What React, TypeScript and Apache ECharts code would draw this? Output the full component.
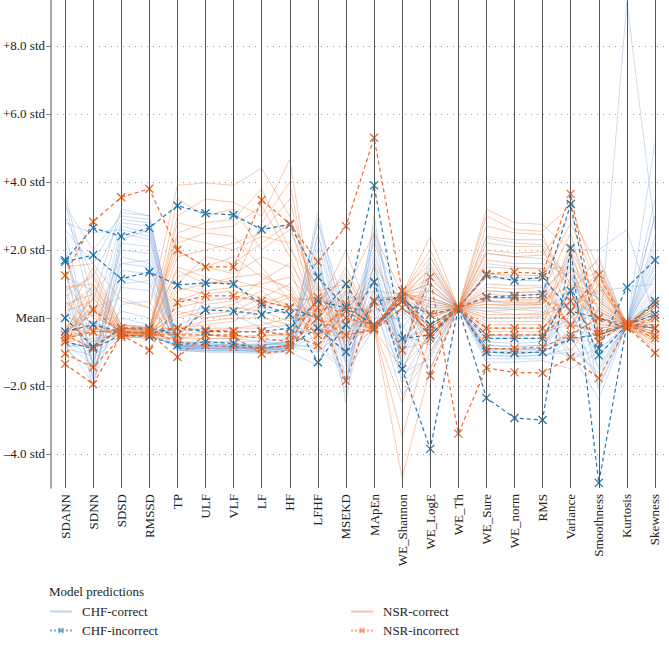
import React, { useEffect, useRef } from "react";
import * as echarts from "echarts";

const features = ["SDANN", "SDNN", "SDSD", "RMSSD", "TP", "ULF", "VLF", "LF", "HF", "LFHF", "MSEKD", "MApEn", "WE_Shannon", "WE_LogE", "WE_Th", "WE_Sure", "WE_norm", "RMS", "Variance", "Smoothness", "Kurtosis", "Skewness"];
const yTicks = [-4, -2, 0, 2, 4, 6, 8];

const chfCorrect: number[][] = [
  [3.6, 0.5, 3.2, 3.0, -0.85, -0.8, -0.85, -0.9, -0.85, 3.1, -0.5, 2.0, -0.8, 0.5, 0.3, -0.9, -0.95, -0.9, 0.5, -0.6, -0.2, 3.0],
  [3.0, 1.2, 2.9, 2.8, -0.9, -0.9, -0.9, -0.95, -0.9, 2.5, -1.0, 1.5, -1.2, 1.0, 0.3, -1.0, -1.05, -1.0, -0.5, -0.8, 9.3, 2.6],
  [2.5, -1.0, 2.7, 2.5, -0.8, -0.75, -0.8, -0.8, -0.75, 2.0, -2.5, 3.0, -1.5, 0.2, 0.3, 2.35, 2.2, 2.15, 1.0, -1.2, -0.3, 1.5],
  [2.0, -1.5, 2.5, 2.3, -0.85, -0.85, -0.85, -0.9, -0.8, 1.5, -1.8, 2.5, -0.5, -0.8, 0.3, 1.6, 1.5, 1.45, 1.5, 0.5, -0.2, 5.15],
  [1.5, -2.05, 2.2, 2.1, -0.9, -0.95, -0.95, -1.0, -0.95, 1.0, -1.2, 0.5, -2.3, -1.0, 0.3, -1.1, -1.1, -1.1, -1.0, -2.4, -0.2, 2.2],
  [1.0, -1.8, 1.8, 1.6, -0.75, -0.7, -0.7, -0.7, -0.6, 0.5, 0.5, 1.0, -1.0, 1.5, 0.3, -0.5, -0.55, -0.5, 0.0, 1.5, -0.2, 1.8],
  [0.5, -1.3, 1.4, 1.3, -0.95, -1.0, -1.0, -1.05, -1.0, -1.4, 0.8, -0.3, 0.2, -0.5, 0.3, -1.3, -1.3, -1.25, -1.5, -1.0, -0.15, 0.5],
  [-0.9, -1.6, 0.9, 0.8, -0.8, 1.05, 1.0, 0.3, 0.1, 0.0, -0.8, 1.8, -0.3, 0.8, 0.3, 0.5, 0.4, 0.45, 2.0, 2.0, 2.6, 0.0],
  [-0.8, -1.9, 0.4, 0.5, -0.85, -0.9, -0.9, -0.85, -0.85, -0.8, -1.5, 0.2, -1.6, -1.2, 0.3, -0.9, -0.9, -0.9, 0.8, -1.5, -0.2, -0.5],
  [-0.7, -0.9, -0.3, -0.4, -0.9, -0.85, -0.9, -0.95, -0.9, 1.2, -0.2, 2.2, 0.5, 1.2, 0.3, 0.0, 0.0, 0.05, -0.8, 0.8, 0.9, 1.0],
  [-0.6, -1.2, -0.5, -0.5, -0.8, -0.8, -0.8, -0.85, -0.8, 0.3, -2.2, 0.8, -0.8, 0.0, 0.3, -0.95, -1.0, -0.95, 1.2, -0.3, -0.2, 3.0],
  [3.3, 2.0, 3.0, 2.9, -0.7, 0.0, 0.1, -0.3, -0.6, 2.8, 0.2, 1.2, -1.3, 0.6, 0.3, 1.2, 1.1, 1.1, -0.3, 1.0, -0.2, 1.2],
  [2.8, 2.5, 2.6, 2.4, -0.85, -0.75, -0.8, -0.9, -0.85, 2.2, -1.0, 0.6, -0.2, -1.5, 0.3, -0.7, -0.75, -0.7, -1.2, -0.9, -0.25, 0.3],
  [-0.85, -0.7, 0.0, -0.2, -0.9, -0.95, -0.95, -0.95, -0.9, -0.5, 0.0, -0.3, 0.7, 0.3, 0.3, -1.0, -1.05, -1.0, 0.3, -2.0, -0.2, -0.3],
  [1.8, -0.5, 2.0, 1.9, -0.8, -0.85, -0.85, -0.8, -0.7, 1.8, -1.3, 2.7, -0.6, -0.3, 0.3, 0.8, 0.75, 0.8, 1.6, 0.3, -0.2, 2.0],
  [0.2, -1.0, 1.2, 1.0, -0.9, -0.9, -0.9, -0.9, -0.85, -1.0, 0.4, 0.0, 0.0, 0.9, 0.3, -1.2, -1.2, -1.2, -0.6, -1.8, -0.2, -0.4],
  [-0.5, 0.3, 0.6, 0.3, -0.75, -0.6, -0.6, -0.7, -0.8, 0.8, -0.6, 1.3, -0.9, -0.7, 0.3, 0.2, 0.1, 0.15, 0.6, 0.0, -0.3, 0.8],
  [2.2, -1.4, 2.3, 2.6, -0.95, -1.0, -1.0, -1.0, -0.95, 1.3, -0.4, 0.4, -1.1, 1.8, 0.3, -0.9, -0.95, -0.9, -0.4, -1.4, -0.2, 1.6],
  [-0.9, -1.1, -0.4, -0.5, -0.85, -0.8, -0.8, -0.75, -0.7, -0.2, -1.1, -0.3, 0.3, -0.2, 0.3, -0.6, -0.6, -0.6, 0.9, 0.6, -0.2, 0.2],
  [1.2, 0.8, 1.6, 1.5, -0.8, -0.9, -0.9, -0.9, -0.9, 0.2, -1.9, 1.6, -1.8, -0.4, 0.3, 0.6, 0.55, 0.55, -1.3, -0.5, -0.2, 0.6],
  [2.6, 1.6, 3.1, 3.0, -0.8, -0.85, -0.85, -0.9, -0.8, 2.9, -0.9, 1.1, -0.7, 0.4, 0.3, -0.8, -0.85, -0.8, 0.1, -1.1, -0.2, 2.4],
  [0.8, -1.7, 1.0, 1.1, -0.9, -0.9, -0.95, -0.95, -0.9, 0.7, -2.0, 2.4, -1.4, -0.6, 0.3, 1.9, 1.8, 1.75, 1.3, -0.7, -0.2, 1.3],
  [-0.75, -1.4, -0.2, -0.3, -0.85, -0.85, -0.85, -0.8, -0.75, -0.9, -1.6, -0.3, 0.1, 0.6, 0.3, -1.1, -1.15, -1.1, -0.9, -1.6, -0.2, -0.2],
  [3.4, 0.0, 2.8, 2.7, -0.75, -0.7, -0.75, -0.8, -0.7, 2.4, 0.1, 1.7, -1.0, 1.3, 0.3, 0.3, 0.25, 0.3, 0.7, 1.8, -0.2, 3.5],
  [-0.85, -0.8, 0.2, 0.0, -0.95, -0.95, -0.95, -1.0, -0.95, -0.1, -0.7, 0.6, 0.6, 0.1, 0.3, -0.4, -0.4, -0.4, -0.2, 0.2, -0.25, -0.1],
  [1.3, -1.1, 1.6, 1.7, -0.85, 0.6, 0.55, -0.1, -0.4, 1.6, -1.4, 0.9, -1.9, -1.1, 0.3, -0.8, -0.85, -0.8, 1.9, -2.1, -0.2, 0.9],
];

const nsrCorrect: number[][] = [
  [1.5, 1.6, 0.5, 0.3, 3.9, 3.97, 3.9, 4.4, 3.0, 0.5, 1.2, -0.3, 0.7, 2.4, 0.3, 3.2, 2.8, 2.75, 2.0, 0.5, -0.2, -0.3],
  [0.8, 1.2, -0.3, -0.4, 3.0, 3.5, 3.4, 3.0, 4.65, -0.5, 0.5, -0.3, 0.7, 1.0, 0.3, 3.0, 2.6, 2.55, 3.3, 1.0, -0.2, 0.0],
  [-0.3, 0.6, -0.4, -0.45, 2.5, 2.8, 2.9, 3.8, 2.0, 1.0, -0.5, 0.5, 0.7, -0.8, 0.3, 2.4, 2.3, 2.3, 1.0, 1.7, -0.25, -0.8],
  [-0.6, -0.3, -0.5, -0.5, 1.8, 2.0, 2.2, 2.5, 3.5, 0.0, 1.5, -0.3, 0.6, 1.5, 0.3, 1.5, 1.45, 1.45, -0.5, 0.0, -0.2, 0.5],
  [0.3, 0.9, -0.35, -0.3, 1.2, 1.5, 1.3, 1.8, 1.5, -0.8, 0.0, -0.35, 0.75, 0.5, 0.3, 0.8, 0.75, 0.75, 2.5, -0.5, -0.2, -0.5],
  [-0.4, 0.2, -0.45, -0.5, 0.5, 0.8, 0.9, 1.0, 1.2, 0.3, 2.0, -0.3, -4.7, -1.5, 0.3, 0.5, 0.5, 0.5, 0.3, 1.2, -0.15, -1.0],
  [-0.7, -0.6, -0.5, -0.55, -0.3, -0.2, -0.1, 0.3, 0.6, -0.3, 0.8, -0.25, 0.7, 0.0, 0.3, 0.2, 0.25, 0.2, -1.0, 0.3, -0.2, 0.2],
  [0.0, 1.5, -0.2, -0.3, 2.2, 2.5, 2.4, 1.5, 0.5, 0.6, -0.8, 0.3, 0.7, 2.0, 0.3, 1.9, 1.8, 1.85, 3.0, 1.5, -0.3, -0.6],
  [-0.5, 0.4, -0.4, -0.4, 0.0, 0.2, 0.4, 0.8, 0.2, -0.6, 0.3, -0.4, 0.6, -0.3, 0.3, 0.4, 0.35, 0.4, 1.5, -0.3, -0.2, -0.2],
  [1.0, 0.0, -0.3, -0.35, 3.5, 3.0, 3.2, 2.0, 2.6, 0.8, 1.0, -0.3, -3.5, -0.5, 0.3, 2.7, 2.5, 2.45, 0.5, 0.8, -0.2, 0.3],
  [-0.2, -0.5, -0.55, -0.6, 0.8, 1.0, 1.2, 1.3, 0.8, -1.0, -0.3, 1.5, 0.5, 0.8, 0.3, 0.0, 0.0, 0.0, 2.2, 0.5, -0.2, -0.4],
  [-0.8, 0.8, -0.45, -0.4, -0.5, -0.4, -0.3, -0.2, 0.0, 0.2, 0.5, -0.35, 0.7, 1.2, 0.3, 1.0, 0.95, 0.95, -0.3, 1.3, -0.2, 0.1],
  [0.5, -0.2, -0.5, -0.45, 1.5, 1.2, 1.0, 2.8, 4.0, -0.4, -0.6, -0.3, 0.8, 0.2, 0.3, -0.3, -0.3, -0.3, 0.8, -0.2, -0.25, -0.7],
  [-0.4, 1.0, -0.35, -0.4, 0.3, 0.5, 0.6, 0.5, 0.3, 0.1, 0.8, 2.5, 0.7, -1.0, 0.3, 0.7, 0.65, 0.7, 1.8, 0.2, -0.2, 0.4],
  [-0.6, -0.4, -0.4, -0.5, 2.8, 2.6, 2.7, 3.3, 1.8, -0.2, 0.2, -0.3, 0.65, 1.8, 0.3, 2.2, 2.1, 2.1, 0.0, 0.6, -0.2, -0.3],
  [0.2, 0.5, -0.5, -0.5, -0.3, -0.1, 0.0, 0.0, -0.2, -0.5, -0.2, -0.3, -2.5, -0.2, 0.3, 0.3, 0.3, 0.3, -0.7, -0.4, -0.2, -0.6],
  [-0.3, -0.7, -0.4, -0.45, 0.6, 0.4, 0.5, 1.1, 1.6, 0.4, 1.3, -0.3, 0.7, 0.6, 0.3, 1.2, 1.2, 1.15, 2.8, 0.9, -0.2, 0.0],
  [1.2, 0.3, -0.3, -0.35, 1.0, 1.8, 1.6, 2.2, 2.8, -0.1, 0.6, -0.35, 0.7, 0.4, 0.3, 1.7, 1.6, 1.6, 1.2, -0.1, -0.2, -0.2],
  [-0.5, -0.1, -0.5, -0.5, -0.6, -0.5, -0.55, -0.5, -0.5, 0.6, -1.0, -0.3, 0.8, -0.6, 0.3, -0.5, -0.5, -0.5, 0.6, 0.4, -0.2, 0.3],
  [0.6, 1.3, -0.2, -0.25, 2.0, 1.5, 1.8, 1.2, 0.9, -0.7, 0.4, 0.8, 0.7, 1.0, 0.3, 0.9, 0.85, 0.9, -0.2, 1.0, -0.25, -0.9],
  [-0.6, -0.2, -0.45, -0.5, 0.2, 0.0, 0.1, 0.4, 0.7, -0.2, 0.1, -0.35, 0.7, 0.8, 0.3, 0.1, 0.1, 0.1, 0.4, 0.2, -0.2, -0.1],
  [-0.5, 0.6, -0.5, -0.55, -0.4, -0.3, -0.3, -0.3, -0.2, 0.4, -0.4, -0.3, 0.75, 0.3, 0.3, 0.5, 0.45, 0.45, 1.0, 0.7, -0.2, -0.4],
  [0.1, -0.4, -0.35, -0.4, 0.9, 0.7, 0.8, 0.6, 0.4, 0.2, 0.9, -0.3, 0.65, -0.2, 0.3, -0.2, -0.2, -0.2, 2.0, -0.6, -0.2, 0.2],
  [-0.4, 0.1, -0.4, -0.45, -0.2, 0.1, 0.2, 0.6, 1.0, -0.4, 0.3, 0.2, 0.7, 1.4, 0.3, 0.6, 0.6, 0.6, -0.4, 0.9, -0.2, -0.5],
  [0.4, 0.7, -0.3, -0.3, 1.4, 1.0, 1.1, 0.9, 0.6, 0.5, -0.1, -0.35, -1.5, 0.0, 0.3, 1.3, 1.25, 1.25, 0.2, 1.1, -0.2, 0.1],
  [-0.7, -0.3, -0.55, -0.6, -0.6, -0.6, -0.6, -0.55, -0.45, -0.3, -0.5, -0.3, 0.7, 0.5, 0.3, -0.1, -0.1, -0.1, 0.9, 0.1, -0.2, -0.3],
  [0.9, 1.0, -0.25, -0.3, 2.4, 2.2, 2.0, 2.4, 2.2, 0.0, 0.7, -0.3, 0.8, 1.6, 0.3, 2.0, 1.9, 1.95, 0.9, 1.4, -0.2, -0.7],
  [-0.3, 0.3, -0.45, -0.45, 0.1, 0.3, 0.3, 0.2, -0.1, 0.9, -0.7, -0.3, 0.6, -0.5, 0.3, 0.4, 0.4, 0.4, 1.4, -0.2, -0.2, 0.2],
];

const chfIncorrect: number[][] = [
  [1.7, 2.65, 2.4, 2.65, 3.3, 3.08, 3.03, 2.6, 2.75, 1.2, 0.3, 3.9, -0.6, -0.5, 0.3, 0.62, 0.65, 0.7, 3.35, -0.9, 0.9, 1.7],
  [1.65, 1.85, 1.15, 1.35, 0.97, 1.03, 1.0, 0.4, 0.1, -1.3, -0.2, 1.06, -1.5, -3.85, 0.3, -2.35, -2.94, -3.0, 2.05, -4.85, -0.2, 0.1],
  [0.0, -0.85, -0.3, -0.3, -0.5, 0.24, 0.2, 0.1, 0.3, 0.0, 1.0, -0.3, 0.5, -0.5, 0.3, 1.26, 1.1, 1.2, 0.2, 0.0, -0.3, 0.5],
  [-0.7, -0.9, -0.5, -0.55, -0.8, -0.7, -0.75, -0.9, -0.8, -0.3, -1.0, 0.5, 0.6, -0.2, 0.3, -1.0, -1.03, -1.0, -0.6, -0.5, -0.2, -0.3],
  [-0.4, -0.2, -0.4, -0.45, -0.3, -0.4, -0.4, -0.4, -0.3, 0.5, 0.3, -0.2, 0.5, 0.1, 0.3, -0.6, -0.6, -0.6, 0.8, -1.1, -0.2, 0.4],
];

const nsrIncorrect: number[][] = [
  [1.25, 2.83, 3.55, 3.8, 2.0, 1.5, 1.5, 3.47, 2.77, 1.65, 2.7, 5.3, 0.8, -1.7, 0.3, 1.3, 1.35, 1.3, 3.65, -0.5, -0.2, 0.4],
  [-0.6, -0.4, -0.4, -0.45, -1.15, -0.5, -0.55, -1.05, -0.95, 0.3, -1.85, 0.5, -0.95, 1.2, -3.4, -1.47, -1.6, -1.62, -1.15, -1.77, -0.25, -1.03],
  [-1.35, -1.95, -0.5, -0.95, 0.45, 0.65, 0.65, 0.5, 0.3, -0.5, 0.4, -0.3, 0.5, -0.3, 0.3, -0.5, -0.5, -0.5, 0.2, 1.27, -0.3, 0.0],
  [-1.05, -1.45, -0.55, -0.5, -0.5, -0.5, -0.5, -0.6, -0.7, 0.6, 0.0, -0.2, 0.6, -0.6, 0.3, 0.6, 0.6, 0.6, -0.2, -0.4, -0.2, -0.5],
  [-0.5, -0.9, -0.3, -0.35, -0.3, -0.35, -0.4, -0.4, -0.5, -0.8, 0.2, -0.3, 0.8, 0.1, 0.3, -0.3, -0.3, -0.3, 0.5, -0.7, -0.1, -0.3],
  [-0.7, 0.25, -0.45, -0.4, -0.7, -0.8, -0.85, -0.9, -0.8, 0.0, -0.5, -0.35, 0.3, -0.4, 0.3, -0.9, -0.9, -0.85, -0.5, 0.0, -0.2, -0.6],
];

const FONT = "'Liberation Serif', 'DejaVu Serif', serif";
const BLUE_LIGHT = "#7fa8dc";
const ORANGE_LIGHT = "#f2884a";
const BLUE = "#1f77b4";
const ORANGE = "#ec6a2c";
const X_SYMBOL = "path://M0,0L10,10M10,0L0,10";

function fmtY(v: number): string {
  if (v === 0) return "Mean";
  const s = Math.abs(v).toFixed(1) + " std";
  return v > 0 ? "+" + s : "\u2013" + s;
}

export default function App() {
  const ref = useRef<HTMLDivElement>(null);
  useEffect(() => {
    if (!ref.current) return;
    const chart = echarts.init(ref.current, undefined, { renderer: "svg" });
    const series: any[] = [];
    series.push({
      type: "line",
      name: "axes",
      data: [],
      z: 1,
      silent: true,
      markLine: {
        silent: true,
        symbol: "none",
        label: { show: false },
        lineStyle: { color: "#555", width: 1, type: "solid" },
        data: features.map((f) => ({ xAxis: f })),
      },
    });
    const correct = (name: string, rows: number[][], color: string, op: number) => {
      rows.forEach((r) => {
        series.push({
          type: "line",
          name,
          data: r,
          z: 2,
          silent: true,
          showSymbol: false,
          symbol: "none",
          lineStyle: { color, width: 1, opacity: op },
          itemStyle: { color },
        });
      });
    };
    const incorrect = (name: string, rows: number[][], color: string) => {
      rows.forEach((r) => {
        series.push({
          type: "line",
          name,
          data: r,
          z: 4,
          silent: true,
          showSymbol: true,
          symbol: X_SYMBOL,
          symbolSize: 8,
          lineStyle: { color, width: 1.2, type: [4, 3] },
          itemStyle: { color, borderColor: color, borderWidth: 1.3 },
        });
      });
    };
    correct("CHF-correct", chfCorrect, BLUE_LIGHT, 0.4);
    correct("NSR-correct", nsrCorrect, ORANGE_LIGHT, 0.45);
    incorrect("CHF-incorrect", chfIncorrect, BLUE);
    incorrect("NSR-incorrect", nsrIncorrect, ORANGE);

    const legendText = { fontFamily: FONT, fontSize: 13, color: "#222", padding: [0, 0, 0, 5] };
    const legendCommon = {
      orient: "vertical",
      top: 605,
      padding: 0,
      itemWidth: 22,
      itemHeight: 6,
      itemGap: 6,
      selectedMode: false,
      textStyle: legendText,
    };
    chart.setOption({
      animation: false,
      backgroundColor: "#fff",
      title: {
        text: "Model predictions",
        left: 49,
        top: 585,
        padding: 0,
        textStyle: { fontFamily: FONT, fontSize: 13, fontWeight: "normal", color: "#222" },
      },
      legend: [
        {
          ...legendCommon,
          left: 49,
          data: [
            { name: "CHF-correct", itemStyle: { opacity: 0 }, lineStyle: { opacity: 0.5 } },
            { name: "CHF-incorrect", itemStyle: { opacity: 0.6 }, lineStyle: { opacity: 0.6, type: "dotted" } },
          ],
        },
        {
          ...legendCommon,
          left: 350,
          data: [
            { name: "NSR-correct", itemStyle: { opacity: 0 }, lineStyle: { opacity: 0.5 } },
            { name: "NSR-incorrect", itemStyle: { opacity: 0.6 }, lineStyle: { opacity: 0.6, type: "dotted" } },
          ],
        },
      ],
      grid: { left: 49, right: 0, top: 0, height: 488 },
      xAxis: {
        type: "category",
        data: features,
        boundaryGap: true,
        axisLine: { show: false },
        axisTick: { show: true, alignWithLabel: true, length: 4, lineStyle: { color: "#555" } },
        axisLabel: { rotate: 90, fontFamily: FONT, fontSize: 13, color: "#222", margin: 6, interval: 0 },
        splitLine: { show: false },
      },
      yAxis: {
        type: "value",
        min: -5,
        max: 9.35,
        axisLine: { show: true, lineStyle: { color: "#888", width: 1.5 } },
        axisTick: { show: true, length: 5, lineStyle: { color: "#888" }, customValues: yTicks },
        axisLabel: { fontFamily: FONT, fontSize: 13, color: "#222", margin: 6, formatter: fmtY, customValues: yTicks },
        splitLine: { show: true, lineStyle: { color: "#999", width: 1, type: [1, 5] } },
      },
      series,
    });
    return () => chart.dispose();
  }, []);
  return <div ref={ref} style={{ position: "fixed", left: 0, top: 0, width: 669, height: 646 }} />;
}
